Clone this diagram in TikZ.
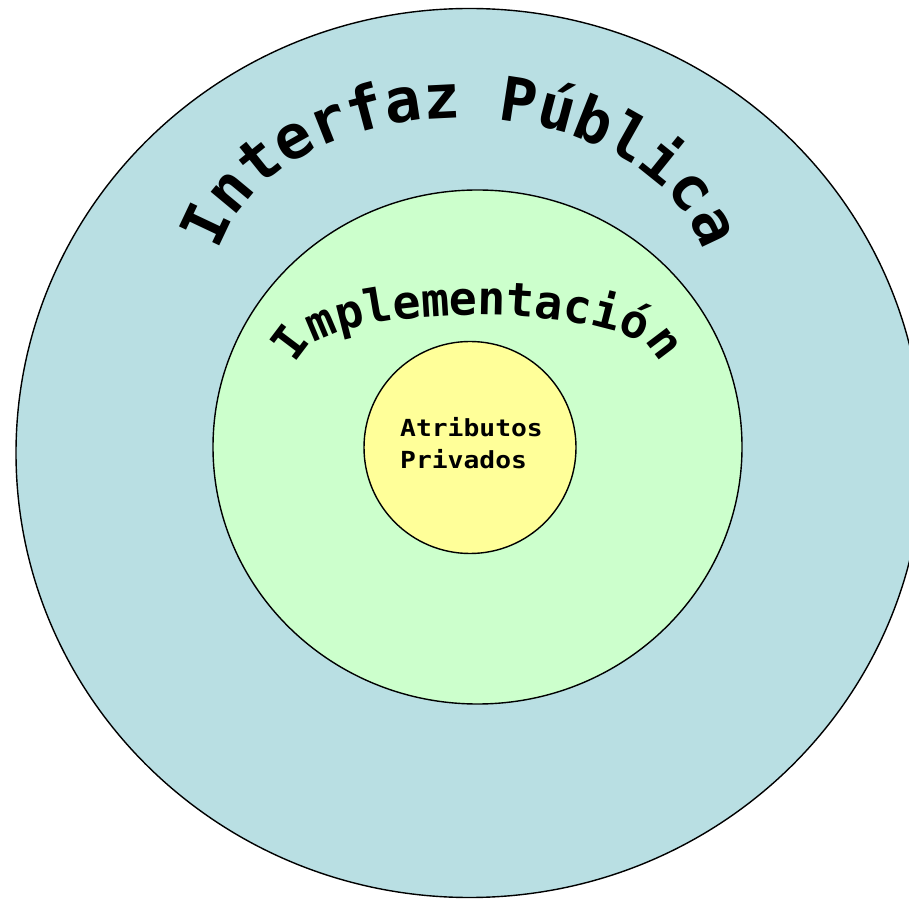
\documentclass[tikz,border=0pt]{standalone}
\usepackage{fontspec}
\usetikzlibrary{decorations.text}
\newfontfamily\monofont{DejaVu Sans Mono}
\newfontfamily\widemono[FakeStretch=1.12]{DejaVu Sans Mono}
\definecolor{outerfill}{RGB}{185,223,227}
\definecolor{middlefill}{RGB}{204,255,204}
\definecolor{innerfill}{RGB}{255,255,153}
\newcommand{\outerlabelfont}{\fontsize{61}{61}\selectfont\monofont\bfseries}
\newcommand{\middlelabelfont}{\fontsize{46.5}{46.5}\selectfont\monofont\bfseries}
\begin{document}
\begin{tikzpicture}[x=1pt,y=1pt,
  ring/.style={draw=black,line width=1.4pt},
  arclabel/.style={decorate,decoration={text along path,text align=center,#1}},
  corelabel/.style={anchor=base west,inner sep=0pt,font=\fontsize{23.5}{32}\selectfont\widemono\bfseries}]
\clip (0,0) rectangle (909,900);
% nested layers
\draw[ring,fill=outerfill] (469.5,447) ellipse [x radius=453.5,y radius=444.5];
\draw[ring,fill=middlefill] (477.5,453) ellipse [x radius=264.5,y radius=257];
\draw[ring,fill=innerfill] (470,452.5) ellipse [x radius=106,y radius=106];
% curved titles
\path[arclabel={text={|\outerlabelfont|Interfaz Pública}}]
  (461,616) ++(210:247 and 166) arc [start angle=210,end angle=-30,x radius=247,y radius=166];
\path[arclabel={text={|\middlelabelfont|Implementación}}]
  (478,539) ++(210:178 and 46) arc [start angle=210,end angle=-30,x radius=178,y radius=46];
% innermost label
\node[corelabel] (attr1) at (400,463) {Atributos};
\node[corelabel] (attr2) at (400,431) {Privados};
\end{tikzpicture}
\end{document}
